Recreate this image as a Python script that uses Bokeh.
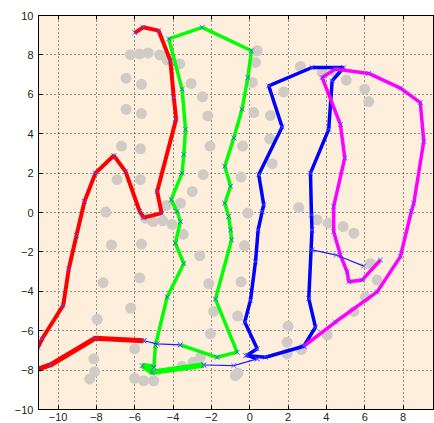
from bokeh.plotting import figure
from bokeh.models import Range1d, LinearAxis, FixedTicker
from bokeh.embed import file_html
from bokeh.resources import INLINE

# ---- data ----
gray_x = [-6.22, -5.74, -5.30, -4.69, -4.31, -3.65, -6.45, -5.65, -3.06, -2.47, -6.45, -5.65,
          -2.19, -6.69, -5.70, -2.07, -6.92, -5.70, -2.43, -3.00, -7.51, -4.35, -3.61,
          -5.44, -5.04, -4.54, -4.05, -3.47, -7.21, -5.65, -2.61, -7.65, -5.74, -2.14, -6.21,
          -1.88, -7.96, -2.05, -6.00, -8.14, -8.09, -8.35, -6.00, -5.53, -5.01, -3.53, -2.95, -2.57,
          0.39, 0.30, 0.13, 2.64, 3.78, 4.47, 5.04, 6.00, 6.21, 1.77, 0.21, 1.08, 1.04, -0.37,
          1.17, -0.45, 2.56, -0.10, 3.51, 4.09, 4.87, 5.43, -0.28, 6.30, 6.65, -0.45, 6.04,
          5.43, -0.63, 2.00, 4.04, 1.95, 2.70, 1.95, -0.61, -0.75]
gray_y = [8.01, 8.05, 8.10, 8.00, 7.74, 7.54, 6.82, 6.51, 6.55, 5.87, 5.24, 5.02,
          4.90, 3.37, 3.23, 3.37, 1.67, 1.67, 1.92, 1.07, 0.02, 0.36, 0.47,
          -0.29, -0.46, -0.42, -0.60, -1.11, -1.65, -1.60, -2.19, -3.56, -3.32, -3.61, -4.85,
          -5.02, -5.42, -6.16, -6.92, -7.43, -8.08, -8.45, -8.42, -8.54, -8.54, -7.82, -7.60, -7.35,
          8.21, 7.62, 6.60, 7.41, 7.11, 7.11, 6.72, 6.26, 5.63, 6.12, 5.07, 4.93, 3.74, 3.37,
          2.48, 1.80, 0.26, -0.03, -0.37, -0.54, -0.71, -1.05, -1.68, -2.59, -3.43, -3.52, -4.29,
          -5.02, -5.26, -5.77, -6.21, -6.58, -6.96, -7.18, -8.15, -8.28]

red_a_x = [-11.05, -10.83, -9.73, -9.44, -9.04, -8.62, -8.05, -7.09, -6.48, -5.74, -5.53,
           -4.60, -4.83, -3.84, -3.96, -4.14, -4.75, -5.56, -6.00]
red_a_y = [-6.85, -6.41, -4.71, -2.87, -1.17, 0.56, 2.00, 2.89, 2.09, 0.05, -0.26,
           -0.03, 1.07, 4.73, 5.83, 7.70, 9.23, 9.40, 9.12]

red_b_x = [-11.05, -10.40, -8.05, -5.53]
red_b_y = [-7.95, -7.74, -6.38, -6.51]

link1_x = [-5.53, -4.83, -3.62]
link1_y = [-6.51, -6.67, -6.72]

green_a_x = [-3.62, -1.70, -0.66, -1.79, -0.95, -1.00, -1.10, -1.30, -1.00, -1.30, -0.83,
             -0.40, -0.10, 0.09, -2.48, -4.22, -3.53, -3.35, -3.44, -3.53, -4.10, -3.79,
             -3.62, -3.88, -3.44, -4.31, -4.92, -5.00]
green_a_y = [-6.72, -7.35, -7.09, -4.40, -1.39, -0.88, -0.20, 0.47, 1.33, 2.35, 3.79,
             5.24, 6.85, 8.21, 9.40, 8.81, 6.26, 4.22, 2.94, 2.00, 0.65, 0.05,
             -0.46, -1.56, -2.59, -4.29, -6.75, -7.86]

green_b_x = [-5.00, -5.61, -5.09, -2.40]
green_b_y = [-7.86, -7.77, -8.11, -7.74]

link2_x = [-2.40, -0.83, 0.39]
link2_y = [-7.74, -7.77, -7.43]

blue_x = [0.39, -0.14, 0.39, -0.26, 0.04, 0.30, 0.44, 0.65, 0.73, 0.47, 1.69, 0.99, 3.25,
          4.90, 4.30, 4.12, 3.17, 3.22, 3.25, 3.08, 3.43, 2.82, 0.82, -0.22]
blue_y = [-7.43, -7.25, -6.92, -5.56, -4.45, -2.50, -0.88, 0.05, 0.39, 1.92, 4.34, 6.43, 7.36,
          7.36, 6.68, 4.22, 2.00, -0.12, -0.88, -4.37, -5.82, -6.79, -7.35, -7.26]

link3_x = [3.25, 4.52, 5.95]
link3_y = [-1.90, -2.16, -2.72]

magenta_x = [2.82, 4.47, 6.65, 7.86, 8.43, 8.56, 9.08, 8.90, 7.86, 6.21, 4.47, 3.78,
             4.73, 4.96, 4.38, 4.38, 4.73, 5.08, 5.17, 5.86, 6.82]
magenta_y = [-6.79, -5.56, -4.03, -2.24, 0.05, 0.47, 3.62, 5.58, 6.31, 7.06, 7.28, 6.85,
             4.47, 2.77, 0.31, -0.97, -2.16, -3.01, -3.52, -3.43, -2.41]

x_ticks = [-10, -8, -6, -4, -2, 0, 2, 4, 6, 8]
y_ticks = [-10, -8, -6, -4, -2, 0, 2, 4, 6, 8, 10]

# ---- figure ----
p = figure(width=434, height=423, output_backend="svg", toolbar_location=None,
           x_range=Range1d(-11.02, 9.64), y_range=Range1d(-10, 10),
           min_border_left=38, min_border_right=0, min_border_top=15, min_border_bottom=0)
p.background_fill_color = "#FDEFDC"
p.border_fill_color = "white"
p.outline_line_color = "black"
p.outline_line_width = 1

for ax in (p.xaxis[0], p.yaxis[0]):
    ax.axis_line_color = "black"
    ax.major_tick_in = 4
    ax.major_tick_out = 0
    ax.minor_tick_line_color = None
    ax.major_label_text_font = "Liberation Sans"
    ax.major_label_text_font_size = "11px"
    ax.major_label_text_color = "#222222"
p.xaxis[0].ticker = FixedTicker(ticks=x_ticks)
p.yaxis[0].ticker = FixedTicker(ticks=y_ticks)
p.xaxis[0].major_label_standoff = 3
p.yaxis[0].major_label_standoff = 5

top = LinearAxis(ticker=FixedTicker(ticks=x_ticks), major_tick_in=4, major_tick_out=0,
                 minor_tick_line_color=None, major_label_standoff=0,
                 major_label_overrides={t: "" for t in x_ticks},
                 axis_line_color="black")
p.add_layout(top, "above")

p.xgrid.ticker = FixedTicker(ticks=x_ticks)
p.ygrid.ticker = FixedTicker(ticks=y_ticks)
p.grid.grid_line_color = "black"
p.grid.grid_line_dash = "1 3"
p.grid.grid_line_alpha = 0.8

# gray points
p.scatter(gray_x, gray_y, marker="circle", size=11, fill_color="#D0CBC5",
          line_color=None)

# strokes
p.line(red_a_x, red_a_y, line_color="#FF0000", line_width=4)
p.line(red_b_x, red_b_y, line_color="#FF0000", line_width=5)
p.line(green_a_x, green_a_y, line_color="#00FF00", line_width=3.5)
p.line(green_b_x, green_b_y, line_color="#00FF00", line_width=5.5)
p.line(blue_x, blue_y, line_color="#0000FF", line_width=3.5)
p.line(magenta_x, magenta_y, line_color="#FF00FF", line_width=3.5)
for lx, ly in ((link1_x, link1_y), (link2_x, link2_y), (link3_x, link3_y)):
    p.line(lx, ly, line_color="#2020FF", line_width=1.2)

# vertex markers
for mx, my in ((red_a_x, red_a_y), (red_b_x, red_b_y), (green_a_x, green_a_y),
               (green_b_x, green_b_y), (blue_x, blue_y), (magenta_x, magenta_y),
               (link1_x, link1_y), (link2_x, link2_y), (link3_x, link3_y)):
    p.scatter(mx, my, marker="x", size=7, line_color="#4A4AFF", line_width=1,
              line_alpha=0.8)

open("out.html", "w").write(file_html(p, INLINE))
